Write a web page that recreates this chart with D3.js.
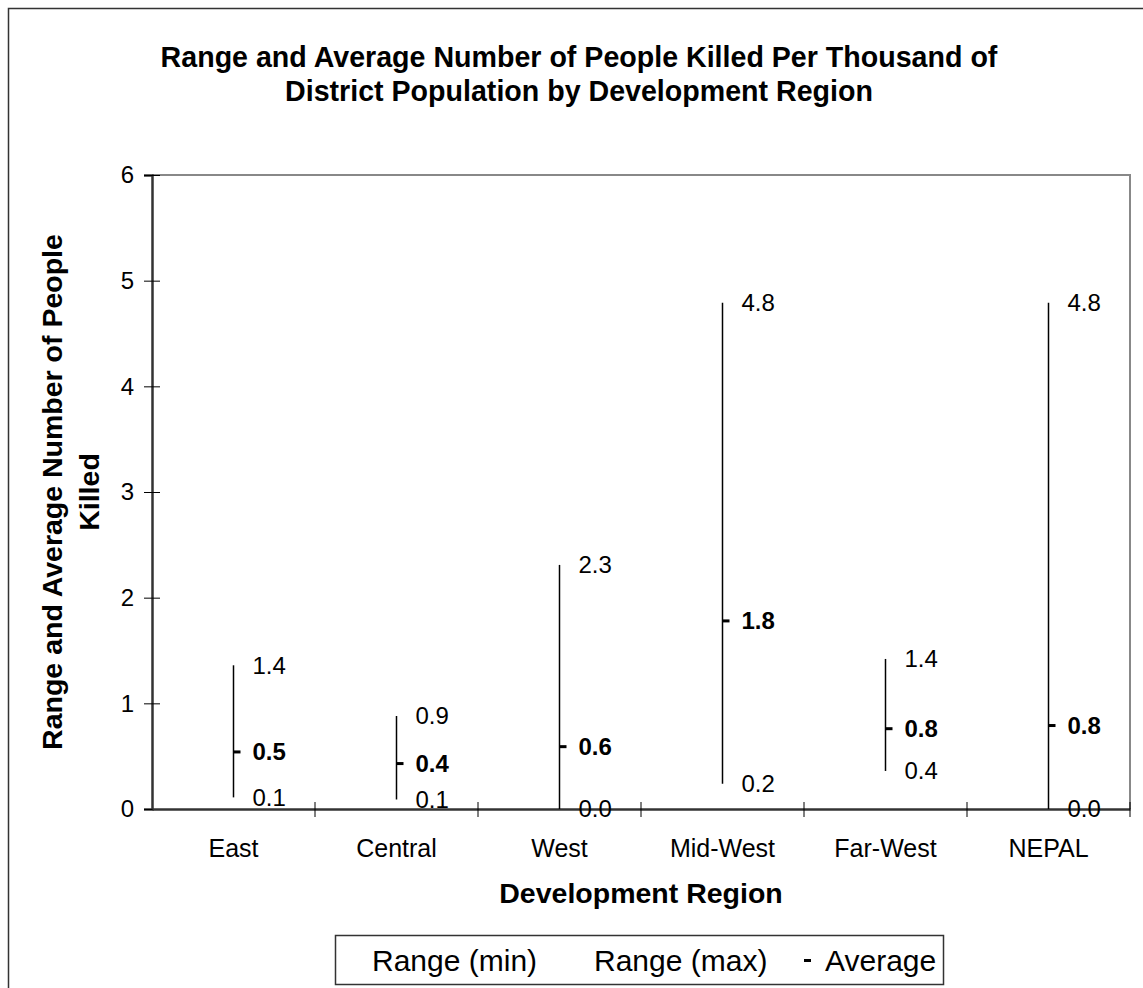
<!DOCTYPE html>
<html>
<head>
<meta charset="utf-8">
<script src="https://cdn.jsdelivr.net/npm/d3@7"></script>
<style>
  html, body { margin: 0; padding: 0; background: #fff; }
  svg { display: block; font-family: "Liberation Sans", Arial, sans-serif; }
</style>
</head>
<body>
<svg id="chart" width="1143" height="988"></svg>
<script>
// Development regions and the per-thousand killed figures for each
const regions = ["East", "Central", "West", "Mid-West", "Far-West", "NEPAL"];
const rangeMin = [0.11, 0.09, 0.0, 0.24, 0.36, 0.0];
const rangeMax = [1.36, 0.88, 2.31, 4.79, 1.42, 4.79];
const average  = [0.54, 0.43, 0.59, 1.78, 0.76, 0.79];
const yTicks = [0, 1, 2, 3, 4, 5, 6];

(function () {
const svg = d3.select("#chart");
const fmt = d3.format(".1f");

// Plot area
const plotL = 152, plotR = 1130, plotT = 175, plotB = 809;

const x = d3.scaleBand().domain(regions).range([plotL, plotR]).padding(0);
const y = d3.scaleLinear().domain([0, 6]).range([plotB, plotT]);
const cx = d => x(d) + x.bandwidth() / 2;

// Outer chart border
svg.append("rect")
  .attr("x", 8.5).attr("y", 8.5)
  .attr("width", 1200).attr("height", 1100)
  .attr("fill", "none").attr("stroke", "#333").attr("stroke-width", 1.5);

// Title
const title = svg.append("text")
  .attr("text-anchor", "middle")
  .attr("font-weight", "bold")
  .attr("font-size", 28.6);
title.append("tspan").attr("x", 579).attr("y", 67)
  .text("Range and Average Number of People Killed Per Thousand of");
title.append("tspan").attr("x", 579).attr("y", 101)
  .text("District Population by Development Region");

// Plot frame: top and right edges in grey
svg.append("path")
  .attr("d", `M${plotL},${y(6)}H${plotR}V${y(0)}`)
  .attr("fill", "none").attr("stroke", "#888").attr("stroke-width", 2);

// Y axis
const yAxis = svg.append("g")
  .attr("transform", `translate(${plotL},0)`)
  .call(d3.axisLeft(y).tickValues(yTicks).tickFormat(d3.format("d")).tickSize(8).tickPadding(10));
yAxis.select(".domain").attr("stroke", "#333").attr("stroke-width", 2.5);
yAxis.selectAll(".tick line").attr("x1", 8).attr("stroke", "#000").attr("stroke-width", 1);
yAxis.selectAll(".tick text")
  .attr("font-size", 24).attr("fill", "#000")
  .attr("font-family", "Liberation Sans, Arial, sans-serif");

// X axis (category labels), ticks at band boundaries
const xAxis = svg.append("g")
  .attr("transform", `translate(0,${plotB})`)
  .call(d3.axisBottom(x).tickSize(0).tickPadding(30));
xAxis.select(".domain").attr("stroke", "#333").attr("stroke-width", 2.5);
xAxis.selectAll(".tick text")
  .attr("font-size", 25).attr("fill", "#000")
  .attr("font-family", "Liberation Sans, Arial, sans-serif");

const boundaries = regions.slice(1).map(d => x(d)).concat([plotR]);
svg.append("g").selectAll("line")
  .data(boundaries)
  .join("line")
  .attr("x1", d => d).attr("x2", d => d)
  .attr("y1", plotB - 7).attr("y2", plotB + 8)
  .attr("stroke", "#000").attr("stroke-width", 1);

// Axis titles
svg.append("text")
  .attr("x", (plotL + plotR) / 2).attr("y", 903)
  .attr("text-anchor", "middle")
  .attr("font-weight", "bold").attr("font-size", 28.5)
  .text("Development Region");

const yTitle = svg.append("text")
  .attr("transform", `translate(62,${(plotT + plotB) / 2}) rotate(-90)`)
  .attr("text-anchor", "middle")
  .attr("font-weight", "bold").attr("font-size", 28.5);
yTitle.append("tspan").attr("x", 0).attr("y", 0)
  .text("Range and Average Number of People");
yTitle.append("tspan").attr("x", 0).attr("y", 37)
  .text("Killed");

// High-low lines
const rows = regions.map((r, i) => ({ r, lo: rangeMin[i], hi: rangeMax[i], avg: average[i] }));
const marks = svg.append("g");

marks.selectAll("line.range")
  .data(rows)
  .join("line")
  .attr("class", "range")
  .attr("x1", d => cx(d.r)).attr("x2", d => cx(d.r))
  .attr("y1", d => y(d.lo)).attr("y2", d => y(d.hi))
  .attr("stroke", "#000").attr("stroke-width", 1.5);

// Average dash markers
marks.selectAll("rect.avg")
  .data(rows)
  .join("rect")
  .attr("class", "avg")
  .attr("x", d => cx(d.r))
  .attr("y", d => y(d.avg) - 1.5)
  .attr("width", 7).attr("height", 3)
  .attr("fill", "#000");

// Value labels
const labelDx = 19;
const labels = [
  { key: "hi", weight: "normal" },
  { key: "lo", weight: "normal" },
  { key: "avg", weight: "bold" }
];
labels.forEach(l => {
  marks.selectAll(`text.lab-${l.key}`)
    .data(rows)
    .join("text")
    .attr("class", `lab-${l.key}`)
    .attr("x", d => cx(d.r) + labelDx)
    .attr("y", d => y(d[l.key]))
    .attr("dy", "0.35em")
    .attr("font-size", 24)
    .attr("font-weight", l.weight)
    .text(d => fmt(d[l.key]));
});

// Legend
const legend = svg.append("g");
legend.append("rect")
  .attr("x", 335.5).attr("y", 935.5)
  .attr("width", 608).attr("height", 49)
  .attr("fill", "#fff").attr("stroke", "#333").attr("stroke-width", 1.5);
const legendItems = [
  { label: "Range (min)", x: 372, marker: false },
  { label: "Range (max)", x: 594, marker: false },
  { label: "Average", x: 825, marker: true }
];
legendItems.forEach(it => {
  if (it.marker) {
    legend.append("rect")
      .attr("x", it.x - 21).attr("y", 959)
      .attr("width", 7).attr("height", 3)
      .attr("fill", "#000");
  }
  legend.append("text")
    .attr("x", it.x).attr("y", 971)
    .attr("font-size", 30)
    .text(it.label);
});
})();
</script>
</body>
</html>
